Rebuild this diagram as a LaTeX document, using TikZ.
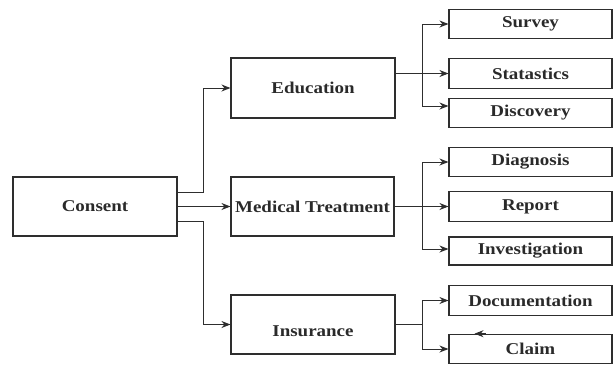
\documentclass[tikz,border=0pt]{standalone}
\usepackage{fontspec}
\setmainfont{Liberation Serif}[FakeStretch=1.15]
\usetikzlibrary{arrows.meta}
\definecolor{ln}{HTML}{2E2E2E}
\definecolor{tx}{HTML}{2A2A2A}
\tikzset{
  box/.style={draw=ln, line width=1.1pt, minimum width=164pt, minimum height=59pt, inner sep=0pt, text=tx, font=\fontsize{16.5}{18}\selectfont\bfseries},
  leaf/.style={box, minimum width=163pt, minimum height=29.5pt},
  conn/.style={draw=ln, line width=1pt, -{Stealth[length=9pt,width=7pt]}},
  plain/.style={draw=ln, line width=1pt}
}
\begin{document}
\begin{tikzpicture}[x=1pt,y=-1pt]
\useasboundingbox (0,0) rectangle (614,365);
% main boxes
\node[box] (consent) at (95,206.5) {Consent};
\node[box, minimum height=60pt] (edu) at (313,88) {Education};
\node[box, minimum width=163pt] (med) at (312.5,206.5) {Medical Treatment};
\node[box, text height=23pt, text depth=0pt] (ins) at (313,324.5) {Insurance};
% leaves
\node[leaf] (survey) at (530.5,24) {Survey};
\node[leaf] (stat) at (530.5,73.5) {Statastics};
\node[leaf] (disc) at (530.5,113) {Discovery};
\node[leaf] (diag) at (530.5,162) {Diagnosis};
\node[leaf] (report) at (530.5,206.5) {Report};
\node[leaf, minimum height=28pt] (inv) at (530.5,251) {Investigation};
\node[leaf] (doc) at (530.5,300.5) {Documentation};
\node[leaf] (claim) at (530.5,349) {Claim};
% consent connectors
\draw[conn] ([yshift=14.5pt]consent.east) -- ++(26,0) |- (edu.west);
\draw[conn] (consent.east) -- (med.west);
\draw[conn] ([yshift=-15pt]consent.east) -- ++(26,0) |- (ins.west);
% education group
\coordinate (ej) at (422,73.5);
\draw[conn] (edu.east |- stat.west) -- (stat.west);
\draw[conn] (ej) |- (survey.west);
\draw[conn] (ej) |- ([yshift=7pt]disc.west);
% medical group
\coordinate (mj) at (422,206.5);
\draw[conn] (med.east) -- (report.west);
\draw[conn] (mj) |- (diag.west);
\draw[conn] (mj) |- ([yshift=2pt]inv.west);
% insurance group
\coordinate (ij) at (422,324.5);
\draw[plain] (ins.east) -- (ij);
\draw[conn] (ij) |- (doc.west);
\draw[conn] (ij) |- (claim.west);
% stray arrowhead on claim
\draw[conn] ([xshift=-45pt]claim.north) -- ([xshift=-56pt]claim.north);
\end{tikzpicture}
\end{document}
